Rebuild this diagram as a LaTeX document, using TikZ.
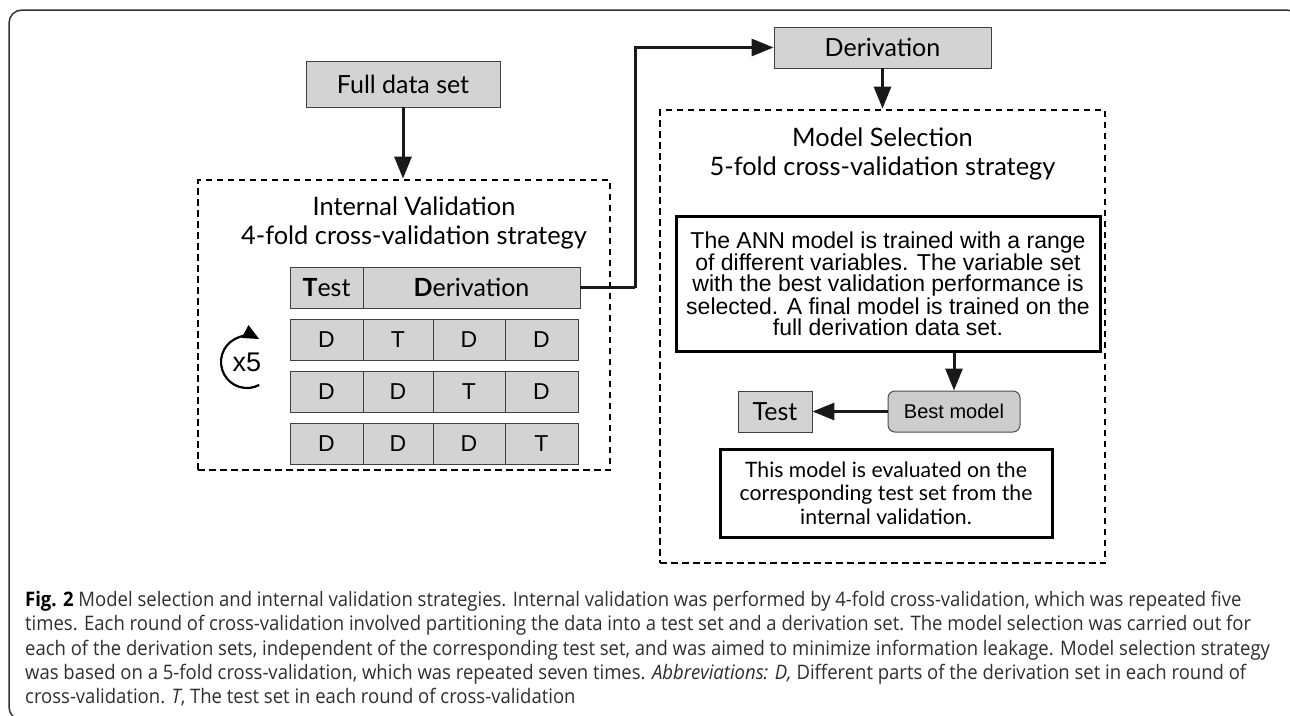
\documentclass[tikz,border=0pt]{standalone}
\usepackage{fontspec}
\setmainfont{Lato}
\newfontfamily\arialf{Liberation Sans}
\newfontfamily\capfont[FakeStretch=0.925]{Open Sans}
\usetikzlibrary{arrows.meta}
\definecolor{boxgray}{HTML}{D3D3D3}
\definecolor{bestgray}{HTML}{CDCDCD}
\definecolor{framegray}{HTML}{333333}

\begin{document}
\begin{tikzpicture}[x=1pt,y=-1pt,
  graybox/.style={draw=black!75, line width=0.9pt, fill=boxgray, inner sep=0pt,
    font=\fontsize{25}{29}\selectfont},
  cell/.style={graybox, minimum height=41pt, font=\arialf\fontsize{23}{26}\selectfont},
  dashframe/.style={draw=black, line width=2.8pt, dash pattern=on 6.5pt off 4.5pt, inner sep=0pt},
  title/.style={align=center, inner sep=0pt, font=\fontsize{25.4}{29}\selectfont},
  textbox/.style={draw=black, line width=3pt, fill=white, align=center, inner sep=0pt},
  conn/.style={draw=black!90, line width=3pt, -{Triangle[length=22pt,width=17pt]}},
  plainline/.style={draw=black!90, line width=3pt}
]
\useasboundingbox (0,0) rectangle (1290,715);
\clip (0,0) rectangle (1290,715);

% figure frame
\draw[framegray, line width=1.5pt, rounded corners=13pt] (9,10) rectangle (1300,720);

% ---------- internal validation ----------
\node[graybox, minimum width=194pt, minimum height=46pt] (full) at (403,84) {Full data set};
\node[dashframe, minimum width=412pt, minimum height=290pt] (ivbox) at (404,325) {};
\draw[conn] (full.south) -- (full.south |- ivbox.north);
\node[title] (ivtitle) at (414,222.5) {Internal Validation\\4-fold cross-validation strategy};

\node[graybox, minimum width=73pt, minimum height=41pt] (rtest) at (326.5,287.5) {\textbf{T}est};
\node[graybox, minimum width=217pt, minimum height=41pt] (rderiv) at (471.5,287.5) {\textbf{D}erivation};

\foreach \r/\y/\a/\b/\c/\d in {2/339.5/D/T/D/D, 3/391.5/D/D/T/D, 4/443.5/D/D/D/T} {
  \node[cell, minimum width=73pt] (c\r1) at (326.5,\y) {\a};
  \node[cell, minimum width=70pt] (c\r2) at (398,\y) {\b};
  \node[cell, minimum width=72pt] (c\r3) at (469,\y) {\c};
  \node[cell, minimum width=73pt] (c\r4) at (541.5,\y) {\d};
}

% repetition mark
\node[inner sep=0pt, font=\arialf\fontsize{27}{27}\selectfont] (x5) at (247,362) {x5};
\draw[black, line width=2.2pt, -{Triangle[length=16pt,width=14pt]}]
  ([shift={(62:26)}]x5.center) arc[start angle=62, end angle=298, radius=26];

% ---------- model selection ----------
\node[graybox, minimum width=217pt, minimum height=41pt] (dtop) at (882.5,47.5) {Derivation};
\coordinate (bend) at (635,287.5);
\draw[plainline] (rderiv.east) -- (bend);
\draw[conn] (bend) |- (dtop.west);

\node[dashframe, minimum width=445pt, minimum height=453pt] (msbox) at (882.5,336.5) {};
\draw[conn] (dtop.south) -- (dtop.south |- msbox.north);
\node[title] (mstitle) at (882.5,154) {Model Selection\\5-fold cross-validation strategy};

\node[textbox, minimum width=424pt, minimum height=135pt,
  font=\arialf\fontsize{23}{21}\selectfont] (ann) at (888,283.5)
  {The ANN model is trained with a range\\of different variables. The variable set\\with the best validation performance is\\selected. A final model is trained on the\\full derivation data set.};

\node[draw=black!70, line width=1pt, fill=bestgray, rounded corners=7pt, inner sep=0pt,
  minimum width=132pt, minimum height=41pt, font=\arialf\fontsize{20}{22}\selectfont]
  (best) at (954,411.5) {Best model};
\node[graybox, minimum width=74pt, minimum height=41pt] (testr) at (775,411.5) {Test};
\draw[conn] (best.north |- ann.south) -- (best.north);
\draw[conn] (best.west) -- (testr.east);

\node[textbox, minimum width=332pt, minimum height=88pt,
  font=\fontsize{21.2}{23.5}\selectfont] (evalbox) at (886,493)
  {This model is evaluated on the\\corresponding test set from the\\internal validation.};

% ---------- caption ----------
\node[anchor=north west, align=left, inner sep=0pt, text=black!82,
  font=\capfont\fontsize{20}{24.3}\selectfont] (caption) at (25,591)
  {{\color{black}\textbf{Fig. 2}} Model selection and internal validation strategies. Internal validation was performed by 4-fold cross-validation, which was repeated five\\
   times. Each round of cross-validation involved partitioning the data into a test set and a derivation set. The model selection was carried out for\\
   each of the derivation sets, independent of the corresponding test set, and was aimed to minimize information leakage. Model selection strategy\\
   was based on a 5-fold cross-validation, which was repeated seven times. \textit{Abbreviations: D,} Different parts of the derivation set in each round of\\
   cross-validation. \textit{T}, The test set in each round of cross-validation};
\end{tikzpicture}
\end{document}
